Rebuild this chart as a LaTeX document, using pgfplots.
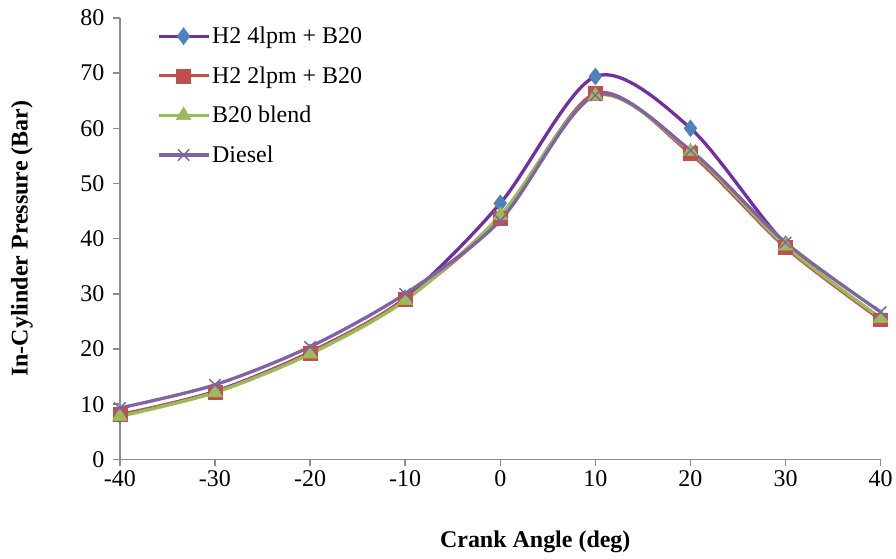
\documentclass[border=0pt]{standalone}
\usepackage{pgfplots}
\pgfplotsset{compat=1.18}
\usepackage{fontspec}
\setmainfont{Liberation Serif}
\definecolor{cblue}{HTML}{4F81BD}
\definecolor{cpurp}{HTML}{7030A0}
\definecolor{cred}{HTML}{C0504D}
\definecolor{cgreen}{HTML}{9BBB59}
\definecolor{cdies}{HTML}{8064A2}
\begin{document}
\begin{tikzpicture}[x=1pt,y=1pt]
\begin{axis}[
  scale only axis, width=762pt, height=442pt,
  xmin=-40, xmax=40, ymin=0, ymax=80,
  xtick={-40,-30,...,40}, ytick={0,10,...,80},
  axis x line*=bottom, axis y line*=left,
  axis line style={draw=gray!90, line width=1.5pt},
  tick style={draw=gray!90, line width=1.5pt},
  major tick length=7pt, tick align=outside,
  tick label style={font=\fontsize{24}{28}\selectfont},
  /pgf/number format/assume math mode=true,
  xticklabel style={yshift=-1pt},
  yticklabel style={xshift=-5pt},
  xlabel={\textbf{Crank Angle (deg)}},
  ylabel={\textbf{In-Cylinder Pressure (Bar)}},
  label style={font=\fontsize{24}{28}\selectfont},
  xlabel style={at={(axis description cs:0.546,-0.188)}, anchor=center},
  ylabel style={at={(axis description cs:-0.1286,0.5)}, anchor=center},
  legend style={draw=none, fill=none, at={(37pt,437pt)}, anchor=north west,
    font=\fontsize{24}{28}\selectfont, row sep=17.5pt, inner xsep=0pt},
  legend cell align=left,
  legend image code/.code={
    \draw[#1, mark repeat=2, mark phase=2] plot coordinates {(0pt,0pt) (25pt,0pt) (50pt,0pt)};
  },
  clip=false,
  every axis plot/.append style={line width=3.3pt, smooth, tension=0.5},
]
\addplot[color=cpurp, mark=diamond*, mark size=8.5pt, mark options={fill=cblue, draw=cblue, line width=0.5pt}]
  coordinates {(-40,8.0) (-30,12.3) (-20,19.4) (-10,29.2) (0,46.4) (10,69.4) (20,60.0) (30,39.0) (40,25.6)};
\addlegendentry{H2 4lpm + B20}
\addplot[color=cred, mark=square*, mark size=7pt, mark options={fill=cred, draw=cred, line width=0.5pt}]
  coordinates {(-40,8.1) (-30,12.2) (-20,19.3) (-10,29.0) (0,43.7) (10,66.3) (20,55.4) (30,38.4) (40,25.3)};
\addlegendentry{H2 2lpm + B20}
\addplot[color=cgreen, mark=triangle*, mark size=8.5pt, mark options={fill=cgreen, draw=cgreen, line width=0.5pt}]
  coordinates {(-40,7.8) (-30,12.1) (-20,19.1) (-10,28.8) (0,44.2) (10,65.9) (20,55.8) (30,38.7) (40,25.6)};
\addlegendentry{B20 blend}
\addplot[color=cdies, mark=x, mark size=8pt, mark options={draw=cdies, line width=1.5pt}]
  coordinates {(-40,9.3) (-30,13.5) (-20,20.4) (-10,30.0) (0,43.3) (10,66.0) (20,56.0) (30,39.3) (40,26.7)};
\addlegendentry{Diesel}
\end{axis}
\useasboundingbox (-120pt,-99pt) rectangle (776pt,460pt);
\end{tikzpicture}
\end{document}
